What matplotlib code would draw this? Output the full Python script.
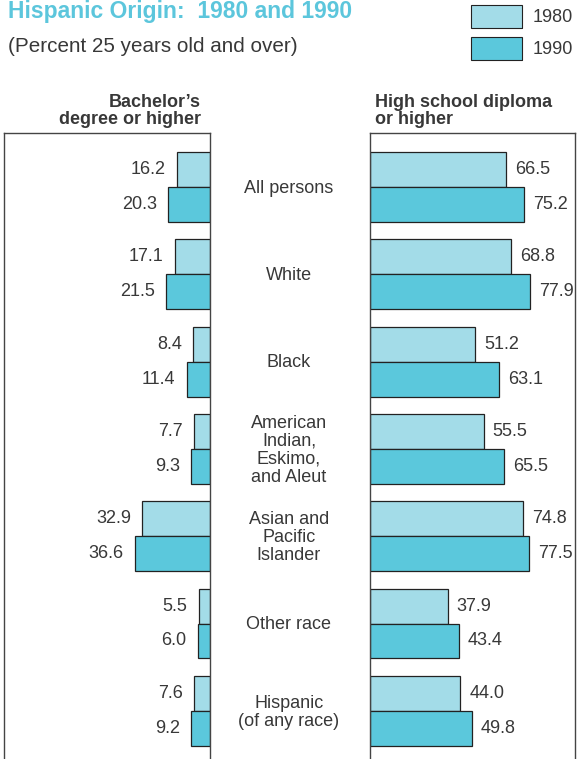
import matplotlib
matplotlib.use("Agg")
import matplotlib.pyplot as plt
from matplotlib.patches import Rectangle
from matplotlib import transforms

plt.rcParams['font.family'] = ['Liberation Sans', 'DejaVu Sans']

categories = ["All persons", "White", "Black",
              "American\nIndian,\nEskimo,\nand Aleut",
              "Asian and\nPacific\nIslander", "Other race",
              "Hispanic\n(of any race)"]
bach_1980 = [16.2, 17.1, 8.4, 7.7, 32.9, 5.5, 7.6]
bach_1990 = [20.3, 21.5, 11.4, 9.3, 36.6, 6.0, 9.2]
hs_1980 = [66.5, 68.8, 51.2, 55.5, 74.8, 37.9, 44.0]
hs_1990 = [75.2, 77.9, 63.1, 65.5, 77.5, 43.4, 49.8]
years = ["1980", "1990"]

C80 = "#A3DCE8"
C90 = "#5BC8DC"
TXT = "#383838"
EDGE = "#222222"

W, H = 583, 759
fig = plt.figure(figsize=(W / 100, H / 100), dpi=100)

def fx(px):
    return px / W

def fy(py):
    return 1 - py / H

top_px = 133
axL = fig.add_axes([fx(4), 0, fx(210) - fx(4), fy(top_px)])
axR = fig.add_axes([fx(370), 0, fx(575) - fx(370), fy(top_px)])

n = len(categories)
ys = list(range(n))
bh = 0.4
for ax in (axL, axR):
    ax.set_ylim(6.552, -0.619)
    ax.set_xticks([])
    ax.set_yticks([])
    ax.spines['bottom'].set_visible(False)
    for s in ('left', 'right', 'top'):
        ax.spines[s].set_color("#444444")
        ax.spines[s].set_linewidth(1.0)
axL.set_xlim(100, 0)
axR.set_xlim(0, 100)

y80 = [y - bh / 2 for y in ys]
y90 = [y + bh / 2 for y in ys]

axL.barh(y80, bach_1980, height=bh, color=C80, edgecolor=EDGE, linewidth=0.9)
axL.barh(y90, bach_1990, height=bh, color=C90, edgecolor=EDGE, linewidth=0.9)
axR.barh(y80, hs_1980, height=bh, color=C80, edgecolor=EDGE, linewidth=0.9)
axR.barh(y90, hs_1990, height=bh, color=C90, edgecolor=EDGE, linewidth=0.9)

fs = 13
for yy, vals in ((y80, bach_1980), (y90, bach_1990)):
    for y, v in zip(yy, vals):
        axL.annotate(f"{v:.1f}", xy=(v, y), xytext=(-11, 0), textcoords='offset pixels',
                     ha='right', va='center', fontsize=fs, color=TXT)
for yy, vals in ((y80, hs_1980), (y90, hs_1990)):
    for y, v in zip(yy, vals):
        axR.annotate(f"{v:.1f}", xy=(v, y), xytext=(9, 0), textcoords='offset pixels',
                     ha='left', va='center', fontsize=fs, color=TXT)

trans = transforms.blended_transform_factory(fig.transFigure, axL.transData)
for y, c in zip(ys, categories):
    fig.text(fx(289), y + 0.015, c, transform=trans, ha='center', va='center',
             fontsize=fs, color=TXT, linespacing=1.08)

# Headers
fig.text(fx(201), fy(124), "Bachelor\u2019s\ndegree or higher", ha='right', va='baseline',
         fontsize=fs, fontweight='bold', color=TXT, linespacing=1.0)
fig.text(fx(375), fy(124), "High school diploma\nor higher", ha='left', va='baseline',
         fontsize=fs, fontweight='bold', color=TXT, linespacing=1.0)

# Title
fig.text(fx(8), fy(18), "Hispanic Origin:  1980 and 1990", ha='left', va='baseline',
         fontsize=16.5, fontweight='bold', color="#5CC6DC")
fig.text(fx(8), fy(52), "(Percent 25 years old and over)", ha='left', va='baseline',
         fontsize=14.9, color=TXT)

# Legend
for (ytop, col, lab) in ((5, C80, years[0]), (37, C90, years[1])):
    fig.add_artist(Rectangle((fx(472), fy(ytop + 24)), fx(51), 23 / H, transform=fig.transFigure,
                             facecolor="#333333", edgecolor='none'))
    fig.add_artist(Rectangle((fx(471), fy(ytop + 23)), fx(51), 23 / H, transform=fig.transFigure,
                             facecolor=col, edgecolor=EDGE, linewidth=0.8))
    fig.text(fx(533), fy(ytop + 12), lab, ha='left', va='center', fontsize=fs, color=TXT)

fig.savefig("out.png", dpi=100)
